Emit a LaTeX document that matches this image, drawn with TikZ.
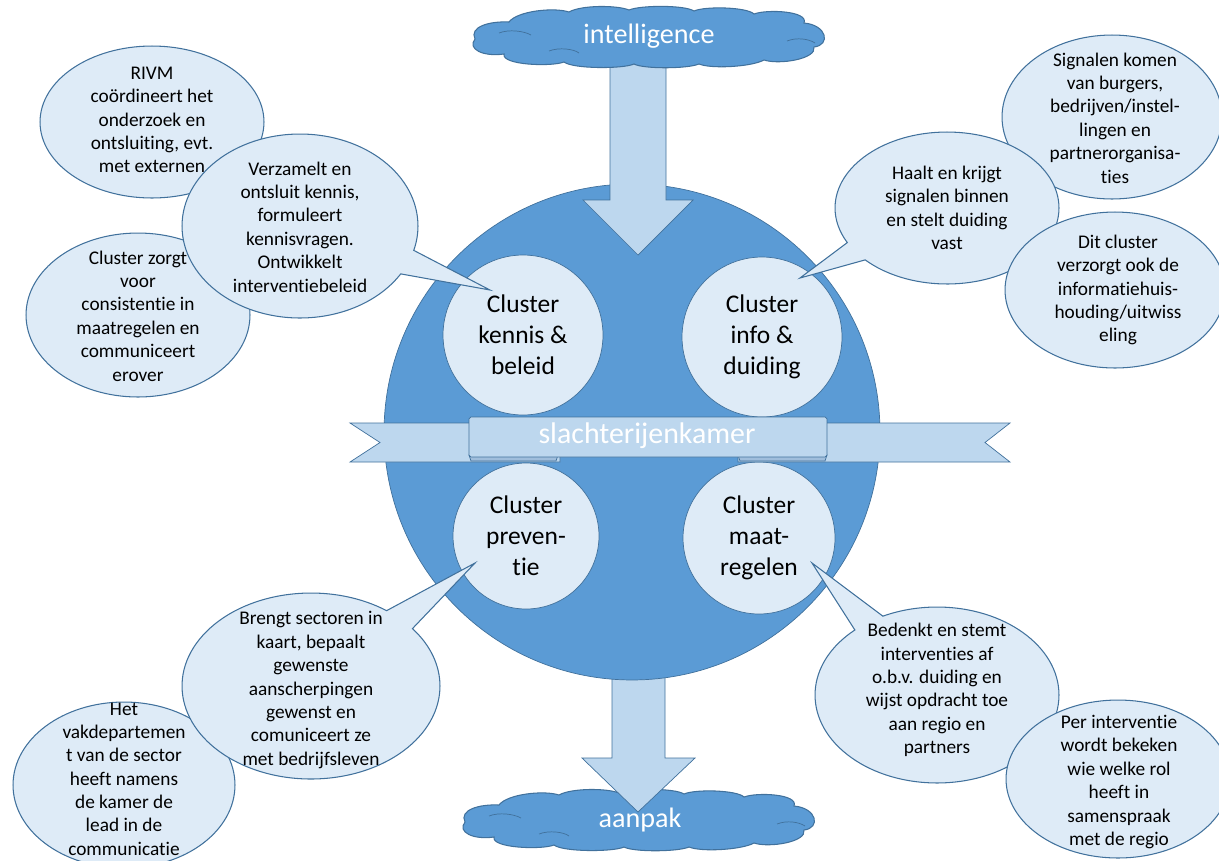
\documentclass[tikz,border=0pt]{standalone}
\usepackage{fontspec}
\setmainfont{Carlito}[Ligatures=NoCommon]
\usetikzlibrary{shapes.callouts,shapes.geometric}
\definecolor{kamerblauw}{RGB}{91,155,213}
\definecolor{randblauw}{RGB}{65,113,156}
\definecolor{lichtblauw}{RGB}{222,235,247}
\definecolor{pijlblauw}{RGB}{189,215,238}
\definecolor{plooiblauw}{RGB}{160,190,220}
% omtrek van een platte wolk rond (0,0)
\newcommand{\wolkpad}{(-174,2) .. controls (-180,-10) and (-160,-16) .. (-140,-15)
  .. controls (-132,-26) and (-95,-30) .. (-80,-25) .. controls (-68,-32) and (-32,-32) .. (-20,-27)
  .. controls (-8,-32) and (36,-32) .. (45,-26) .. controls (56,-31) and (98,-30) .. (105,-23)
  .. controls (118,-28) and (160,-26) .. (155,-14) .. controls (178,-12) and (182,8) .. (165,10)
  .. controls (168,22) and (130,28) .. (115,23) .. controls (102,30) and (62,32) .. (50,27)
  .. controls (38,32) and (-6,32) .. (-15,27) .. controls (-26,32) and (-76,32) .. (-85,25)
  .. controls (-98,30) and (-148,28) .. (-145,17) .. controls (-166,20) and (-182,12) .. (-174,2) -- cycle}
\newcommand{\wolkplooi}{(-150,-4) .. controls (-140,-8) and (-125,-6) .. (-118,-2)
  (138,4) .. controls (148,0) and (160,2) .. (166,6)
  (-100,14) .. controls (-90,10) and (-75,12) .. (-70,16)}

\begin{document}
\begin{tikzpicture}[x=0.02cm,y=-0.02cm,
  wolk/.style={draw=randblauw, fill=kamerblauw, line width=0.6pt},
  wittetekst/.style={text=white, inner sep=0pt, font=\fontsize{16}{19}\selectfont},
  cluster/.style={circle, draw=randblauw, fill=lichtblauw, inner sep=0pt, align=center,
    font=\fontsize{14.5}{17.6}\selectfont},
  ballon/.style={ellipse, draw=randblauw, fill=lichtblauw, line width=0.6pt, inner sep=0pt},
  wolkje/.style={ellipse callout, draw=randblauw, fill=lichtblauw, line width=0.6pt, inner sep=0pt,
    callout pointer arc=16},
  ballontekst/.style={align=center, inner sep=0pt, font=\fontsize{11}{13.3}\selectfont},
  pijl/.style={draw=randblauw, fill=pijlblauw}]
\useasboundingbox (0,0) rectangle (1219,860);
\clip (0,0) rectangle (1219,860);
% onder: aanpak
\begin{scope}[shift={(639,820)}]
\draw[wolk] \wolkpad;
\draw[randblauw] \wolkplooi;
\end{scope}
\draw[pijl] (612,660) -- (665,660) -- (665,758) -- (695,758) -- (638,812) -- (582,758) -- (612,758) -- cycle;
\node[wittetekst] (aanpak) at (640,820) {aanpak};
% de kamer met de vier clusters
\node[circle, draw=randblauw, fill=kamerblauw, minimum size=9.92cm] (kamer) at (632,432) {};
\node[cluster, minimum size=3.2cm] (kennis) at (523,335) {Cluster\\kennis \&\\beleid};
\node[cluster, minimum size=3.2cm] (info) at (762,337) {Cluster\\info \&\\duiding};
\node[cluster, minimum size=2.92cm] (preventie) at (526,536) {Cluster\\preven-\\tie};
\node[cluster, minimum size=3.04cm] (maatregelen) at (759,538) {Cluster\\maat-\\regelen};
% lint
\draw[pijl] (350,423) -- (560,423) -- (560,462) -- (350,462) -- (380,442.5) -- cycle;
\draw[pijl] (1010,423) -- (738,423) -- (738,462) -- (1010,462) -- (985,442.5) -- cycle;
\draw[draw=randblauw, fill=plooiblauw] (469,455) -- (558,455) -- (556,461) -- (471,461) -- cycle;
\draw[draw=randblauw, fill=plooiblauw] (738,455) -- (827,455) -- (825,461) -- (740,461) -- cycle;
\node[draw=randblauw, fill=pijlblauw, rounded corners=1pt, minimum width=7.16cm, minimum height=0.8cm]
  (lint) at (648,437) {};
\node[wittetekst, font=\fontsize{17}{20}\selectfont] (kamernaam) at (647,436) {slachterijenkamer};
% boven: intelligence
\draw[pijl] (610,50) -- (666,50) -- (666,200) -- (693,200) -- (638,255) -- (583,200) -- (610,200) -- cycle;
\begin{scope}[shift={(649,37)}]
\draw[wolk] \wolkpad;
\draw[randblauw] \wolkplooi;
\end{scope}
\node[wittetekst] (intelligence) at (649,36) {intelligence};
% punten van de wolkjes
\coordinate (kennispunt) at (490,290);
\coordinate (infopunt) at (800,278);
\coordinate (preventiepunt) at (475,563);
\coordinate (maatpunt) at (812,563);
% linksboven
\node[ballon, minimum width=4.48cm, minimum height=3.04cm] (rivm) at (152,122) {};
\node[ballontekst] at (152,120) {RIVM\\coördineert het\\onderzoek en\\ontsluiting, evt.\\met externen};
\node[ballon, minimum width=4.48cm, minimum height=3.28cm] (zorgt) at (138,315) {};
\node[ballontekst] at (138,316) {Cluster zorgt\\voor\\consistentie in\\maatregelen en\\communiceert\\erover};
\node[wolkje, minimum width=4.72cm, minimum height=3.68cm, callout absolute pointer=(kennispunt)]
  (verzamelt) at (300,226) {};
\node[ballontekst] at (300,227) {Verzamelt en\\ontsluit kennis,\\formuleert\\kennisvragen.\\Ontwikkelt\\interventiebeleid};
% rechtsboven
\node[ballon, minimum width=4.4cm, minimum height=3.28cm] (signalen) at (1112,117) {};
\node[ballontekst] at (1115,118) {Signalen komen\\van burgers,\\bedrijven/instel-\\lingen en\\partnerorganisa-\\ties};
\node[wolkje, minimum width=4.48cm, minimum height=3.04cm, callout absolute pointer=(infopunt)]
  (haalt) at (947,208) {};
\node[ballontekst] at (947,208) {Haalt en krijgt\\signalen binnen\\en stelt duiding\\vast};
\node[ballon, minimum width=4.4cm, minimum height=3.12cm] (ditcluster) at (1115,290) {};
\node[ballontekst] at (1118,290) {Dit cluster\\verzorgt ook de\\informatiehuis-\\houding/uitwiss\\eling};
% linksonder
\node[ballon, minimum width=4.44cm, minimum height=3.32cm] (vakdep) at (124,785) {};
\node[ballontekst] at (124,779) {Het\\vakdepartemen\\t van de sector\\heeft namens\\de kamer de\\lead in de\\communicatie};
\node[wolkje, minimum width=5.16cm, minimum height=3.72cm, callout absolute pointer=(preventiepunt)]
  (brengt) at (311,686) {};
\node[ballontekst] at (311,690) {Brengt sectoren in\\kaart, bepaalt\\gewenste\\aanscherpingen\\gewenst en\\comuniceert ze\\met bedrijfsleven};
% rechtsonder
\node[wolkje, minimum width=4.88cm, minimum height=3.52cm, callout absolute pointer=(maatpunt)]
  (bedenkt) at (937,695) {};
\node[ballontekst] at (937,690) {Bedenkt en stemt\\interventies af\\o.b.v. duiding en\\wijst opdracht toe\\aan regio en\\partners};
\node[ballon, minimum width=4.48cm, minimum height=3.16cm] (perinterventie) at (1118,779) {};
\node[ballontekst] at (1119,782) {Per interventie\\wordt bekeken\\wie welke rol\\heeft in\\samenspraak\\met de regio};
\end{tikzpicture}
\end{document}
